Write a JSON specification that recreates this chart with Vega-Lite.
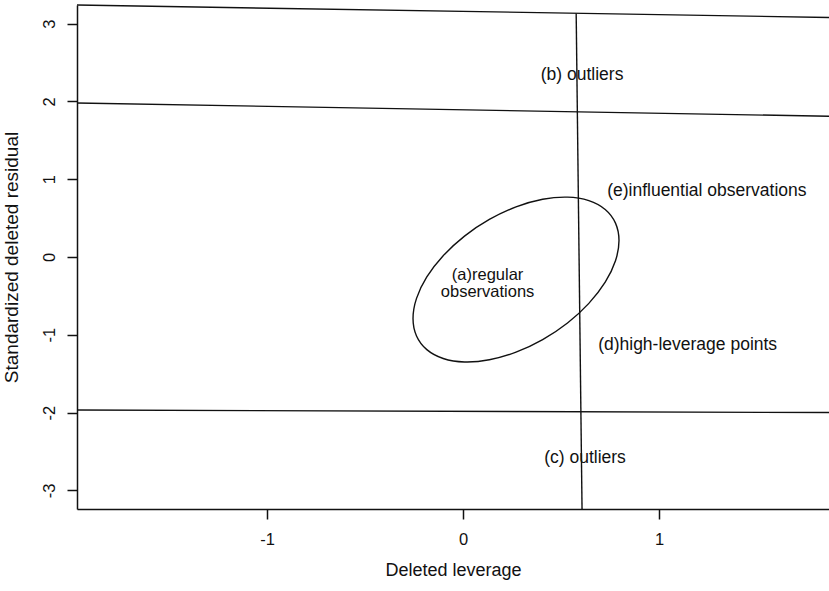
{
  "$schema": "https://vega.github.io/schema/vega-lite/v6.json",
  "autosize": {"type": "none"},
  "padding": {"left": 77, "top": 5, "right": 0, "bottom": 82},
  "width": 752,
  "height": 504,
  "background": "white",
  "config": {
    "view": {"stroke": null},
    "font": "Liberation Sans",
    "axis": {
      "grid": false,
      "domainColor": "#111",
      "domainWidth": 1.5,
      "tickColor": "#111",
      "tickWidth": 1.5,
      "tickSize": 10,
      "labelColor": "#111",
      "labelFont": "Liberation Sans",
      "labelFontSize": 16.5,
      "titleFont": "Liberation Sans",
      "titleFontWeight": "normal",
      "titleColor": "#111",
      "labelExpr": "datum.value + ''"
    }
  },
  "layer": [
    {
      "data": {"values": [
        {"x": -1.97, "y": 3.24, "x2": 1.867, "y2": 3.08},
        {"x": -1.97, "y": 1.98, "x2": 1.867, "y2": 1.81},
        {"x": -1.97, "y": -1.967, "x2": 1.867, "y2": -2.0},
        {"x": 0.577, "y": 3.13, "x2": 0.607, "y2": -3.245}
      ]},
      "mark": {"type": "rule", "color": "#111", "strokeWidth": 1.4},
      "encoding": {
        "x": {"field": "x", "type": "quantitative",
          "scale": {"domain": [-1.97, 1.867], "nice": false, "zero": false},
          "axis": {"values": [-1, 0, 1], "title": "Deleted leverage", "titleFontSize": 18, "labelPadding": 12, "titlePadding": 14}},
        "y": {"field": "y", "type": "quantitative",
          "scale": {"domain": [-3.24, 3.24], "nice": false, "zero": false},
          "axis": {"values": [-3, -2, -1, 0, 1, 2, 3], "title": "Standardized deleted residual", "titleFontSize": 19, "labelAngle": -90, "labelAlign": "center", "labelBaseline": "bottom", "labelPadding": 10, "titlePadding": 20}},
        "x2": {"field": "x2"},
        "y2": {"field": "y2"}
      }
    },
    {
      "data": {"values": [
        {"t": 0, "x": 0.7955, "y": 0.211},
        {"t": 1, "x": 0.7776, "y": -0.0478},
        {"t": 2, "x": 0.7251, "y": -0.3231},
        {"t": 3, "x": 0.6416, "y": -0.5961},
        {"t": 4, "x": 0.5328, "y": -0.8484},
        {"t": 5, "x": 0.406, "y": -1.0624},
        {"t": 6, "x": 0.27, "y": -1.224},
        {"t": 7, "x": 0.134, "y": -1.3218},
        {"t": 8, "x": 0.0072, "y": -1.3494},
        {"t": 9, "x": -0.1016, "y": -1.3047},
        {"t": 10, "x": -0.1851, "y": -1.1909},
        {"t": 11, "x": -0.2376, "y": -1.0156},
        {"t": 12, "x": -0.2555, "y": -0.791},
        {"t": 13, "x": -0.2376, "y": -0.5322},
        {"t": 14, "x": -0.1851, "y": -0.2569},
        {"t": 15, "x": -0.1016, "y": 0.0161},
        {"t": 16, "x": 0.0072, "y": 0.2684},
        {"t": 17, "x": 0.134, "y": 0.4824},
        {"t": 18, "x": 0.27, "y": 0.644},
        {"t": 19, "x": 0.406, "y": 0.7418},
        {"t": 20, "x": 0.5328, "y": 0.7694},
        {"t": 21, "x": 0.6416, "y": 0.7247},
        {"t": 22, "x": 0.7251, "y": 0.6109},
        {"t": 23, "x": 0.7776, "y": 0.4356}
      ]},
      "mark": {"type": "line", "interpolate": "cardinal-closed", "color": "#111", "strokeWidth": 1.4},
      "encoding": {
        "x": {"field": "x", "type": "quantitative"},
        "y": {"field": "y", "type": "quantitative"},
        "order": {"field": "t", "type": "quantitative"}
      }
    },
    {
      "data": {"values": [
        {"x": 0.607, "y": 2.34, "label": "(b) outliers"},
        {"x": 0.622, "y": -2.584, "label": "(c) outliers"}
      ]},
      "mark": {"type": "text", "fontSize": 17.5, "color": "#111", "baseline": "middle", "align": "center", "font": "Liberation Sans"},
      "encoding": {
        "x": {"field": "x", "type": "quantitative"},
        "y": {"field": "y", "type": "quantitative"},
        "text": {"field": "label"}
      }
    },
    {
      "data": {"values": [
        {"x": 0.735, "y": 0.848, "label": "(e)influential observations"},
        {"x": 0.689, "y": -1.131, "label": "(d)high-leverage points"}
      ]},
      "mark": {"type": "text", "fontSize": 17.5, "color": "#111", "baseline": "middle", "align": "left", "font": "Liberation Sans"},
      "encoding": {
        "x": {"field": "x", "type": "quantitative"},
        "y": {"field": "y", "type": "quantitative"},
        "text": {"field": "label"}
      }
    },
    {
      "data": {"values": [
        {"x": 0.125, "y": -0.232, "label": ["(a)regular", "observations"]}
      ]},
      "mark": {"type": "text", "fontSize": 16.5, "color": "#111", "baseline": "middle", "align": "center", "lineHeight": 17, "font": "Liberation Sans"},
      "encoding": {
        "x": {"field": "x", "type": "quantitative"},
        "y": {"field": "y", "type": "quantitative"},
        "text": {"field": "label"}
      }
    }
  ]
}
